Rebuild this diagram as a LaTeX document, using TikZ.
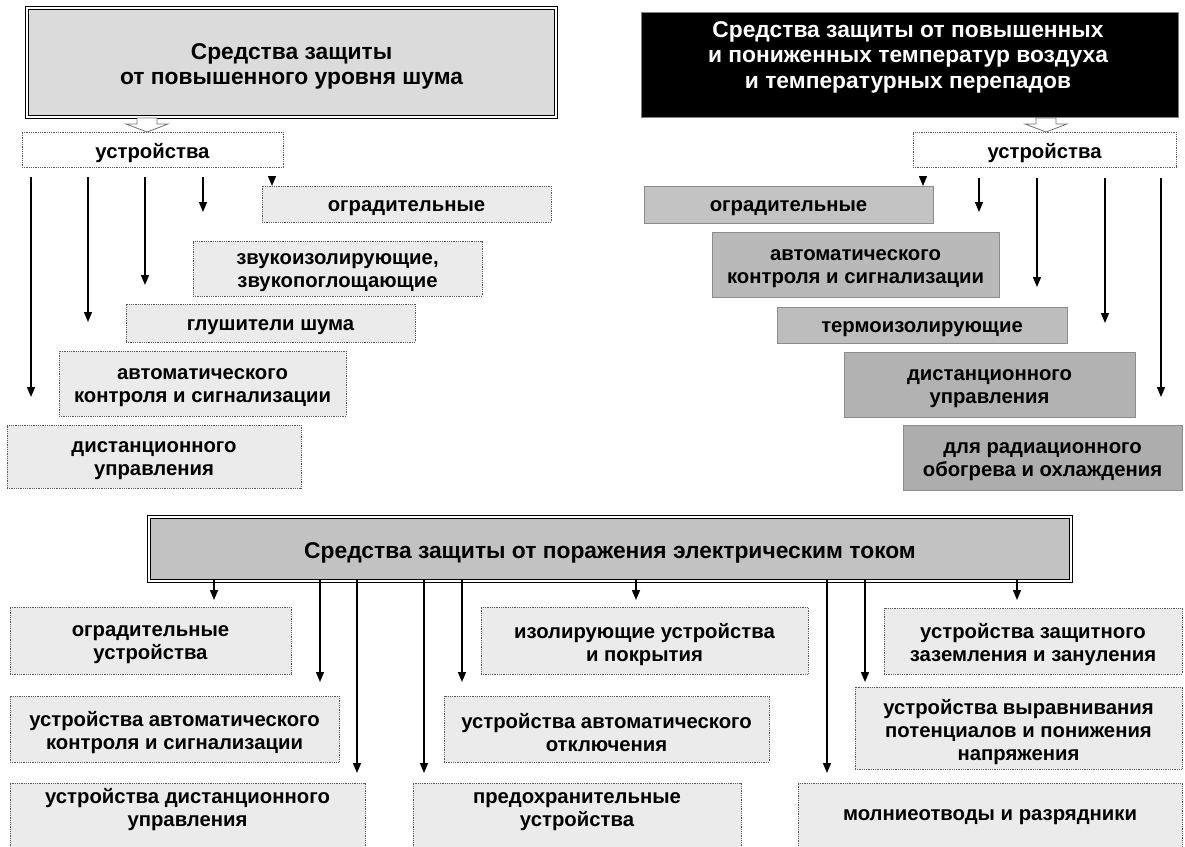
\documentclass[tikz,border=0pt]{standalone}
\usepackage{fontspec}
\setmainfont{Liberation Sans}
\usetikzlibrary{arrows.meta,calc}

% box (#1 style) named #3 with top-left corner (#4,#5), size #6 x #7,
% and its caption #8 (#2 style) set a little below the box centre
\newcommand\mkbox[8]{%
  \node[#1, minimum width=#6, minimum height=#7] (#3) at (#4,#5) {};
  \node[#2] (#3t) at ([yshift=-4pt]#3.center) {#8};}

\begin{document}
\begin{tikzpicture}[x=1pt,y=-1pt,
  every node/.style={inner sep=0pt, outer sep=0pt, align=center,
    font=\fontsize{20.3}{23}\selectfont\bfseries},
  nwpos/.style={anchor=north west},
  dbox/.style={nwpos, draw=black!65, densely dotted, line width=0.8pt},
  lbox/.style={dbox, fill=gray!16},
  wbox/.style={dbox, fill=white},
  rbox/.style={nwpos, draw=black!45, line width=0.6pt, fill=gray!#1},
  plain/.style={},
  ttlfont/.style={font=\fontsize{22.8}{25.5}\selectfont\bfseries},
  ttlframe/.style={nwpos, draw=black, line width=4.5pt, fill=gray!#1,
    postaction={draw=white, line width=1.1pt}},
  arr/.style={line width=1.5pt, -{Triangle[width=8pt,length=10pt]}},
  harrow/.style={draw=black!55, line width=0.8pt, fill=white}
]
\useasboundingbox (0,0) rectangle (1185,846);

% ---------- noise protection ----------
\mkbox{ttlframe=28}{ttlfont}{tl}{27}{8}{529}{109}
  {Средства защиты\\от повышенного уровня шума}
\mkbox{wbox}{plain}{dl}{22}{132}{261}{35}{устройства}
\draw[harrow] (137,118) -- (157,118) -- (157,124) -- (168,124) -- (147,132)
  -- (126,124) -- (137,124) -- cycle;

\mkbox{lbox}{plain}{l1}{262}{186}{289}{36}{оградительные}
\mkbox{lbox}{plain}{l2}{193}{241}{289}{55}{звукоизолирующие,\\звукопоглощающие}
\mkbox{lbox}{plain}{l3}{126}{304}{289}{38}{глушители шума}
\mkbox{lbox}{plain}{l4}{59}{351}{287}{65}{автоматического\\контроля и сигнализации}
\mkbox{lbox}{plain}{l5}{7}{425}{294}{63}{дистанционного\\управления}

\coordinate (la5) at (31,397);
\coordinate (la4) at (88,322);
\coordinate (la3) at (145,285);
\coordinate (la2) at (203,212);
\coordinate (la1) at (272,179);
\foreach \c in {la5,la4,la3,la2}
  \draw[arr] ([yshift=-10pt]dl.south -| \c) -- (\c);
\draw[arr] (la1) -- (l1.north -| la1);

% ---------- temperature protection ----------
\node[nwpos, fill=black, draw=black!50, line width=0.6pt, minimum width=537,
  minimum height=105] (tr) at (641,12) {};
\node[ttlfont, text=white] (trt) at (908,57)
  {Средства защиты от повышенных\\и пониженных температур воздуха\\и температурных перепадов};
\mkbox{wbox}{plain}{dr}{913}{132}{263}{35}{устройства}
\draw[harrow] (1036,118) -- (1056,118) -- (1056,124) -- (1067,124) -- (1046,132)
  -- (1025,124) -- (1036,124) -- cycle;

\mkbox{rbox=47}{plain}{r1}{644}{186}{289}{37}{оградительные}
\mkbox{rbox=55}{plain}{r2}{712}{232}{287}{65}{автоматического\\контроля и сигнализации}
\mkbox{rbox=52}{plain}{r3}{777}{307}{290}{36}{термоизолирующие}
\mkbox{rbox=60}{plain}{r4}{844}{352}{291}{65}{дистанционного\\управления}
\mkbox{rbox=64}{plain}{r5}{903}{425}{279}{65}{для радиационного\\обогрева и охлаждения}

\coordinate (ra2) at (979,212);
\coordinate (ra3) at (1037,287);
\coordinate (ra4) at (1105,323);
\coordinate (ra5) at (1161,397);
\coordinate (ra1) at (923,177);
\foreach \c in {ra2,ra3,ra4,ra5}
  \draw[arr] ([yshift=-11pt]dr.south -| \c) -- (\c);
\draw[arr] (ra1) -- (r1.north -| ra1);

% ---------- electric shock protection ----------
\mkbox{ttlframe=48}{ttlfont}{bt}{149}{517}{922}{64}
  {Средства защиты от поражения электрическим током}

\mkbox{lbox}{plain}{b1}{10}{607}{281}{67}{оградительные\\устройства}
\mkbox{lbox}{plain}{b2}{10}{696}{329}{66}{устройства автоматического\\контроля и сигнализации}
\node[lbox, minimum width=355, minimum height=70] (b3) at (10,783) {};
\node (b3t) at ([yshift=-27pt]b3.north) {устройства дистанционного\\управления};

\mkbox{lbox}{plain}{b4}{481}{607}{327}{67}{изолирующие устройства\\и покрытия}
\mkbox{lbox}{plain}{b5}{444}{696}{325}{66}{устройства автоматического\\отключения}
\node[lbox, minimum width=328, minimum height=70] (b6) at (413,783) {};
\node (b6t) at ([yshift=-29pt]b6.north) {предохранительные\\устройства};

\mkbox{lbox}{plain}{b7}{884}{608}{298}{66}{устройства защитного\\заземления и зануления}
\mkbox{lbox}{plain}{b8}{855}{687}{327}{82}{устройства выравнивания\\потенциалов и понижения\\напряжения}
\node[lbox, minimum width=384, minimum height=70] (b9) at (798,783) {};
\node (b9t) at ([yshift=-34pt]b9.north) {молниеотводы и разрядники};

\coordinate (ba1) at (214,600);
\coordinate (ba2) at (320,682);
\coordinate (ba3) at (357,773);
\coordinate (ba4) at (424,773);
\coordinate (ba5) at (462,682);
\coordinate (ba6) at (636,600);
\coordinate (ba7) at (827,773);
\coordinate (ba8) at (865,682);
\coordinate (ba9) at (1017,600);
\foreach \c in {ba1,ba2,ba3,ba4,ba5,ba6,ba7,ba8,ba9}
  \draw[arr] ([yshift=2pt]bt.south -| \c) -- (\c);
\end{tikzpicture}
\end{document}
